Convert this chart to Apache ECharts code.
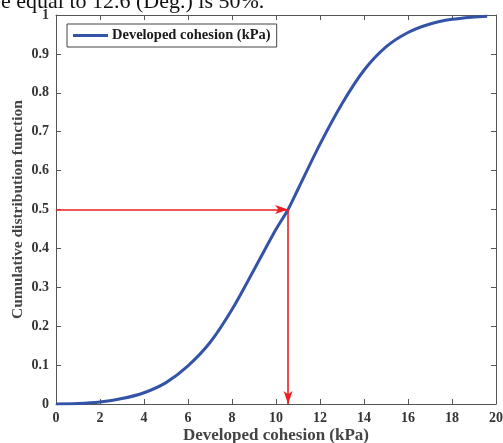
<!DOCTYPE html>
<html>
<head>
<meta charset="utf-8">
<script src="https://cdn.jsdelivr.net/npm/echarts@6/dist/echarts.min.js"></script>
<style>
  html, body { margin: 0; padding: 0; background: #fff; }
  #chart { width: 503px; height: 443px; }
</style>
</head>
<body>
<div id="chart"></div>
<script>
// Cumulative distribution of the developed cohesion
const cohesionKPa = [0, 1, 2, 3, 4, 5, 6, 7, 8, 9, 10, 10.55, 11, 12, 13, 14, 15, 16, 17, 18, 19, 19.6];
const cdfValues   = [0, 0.001, 0.005, 0.014, 0.029, 0.055, 0.098, 0.158, 0.243, 0.345, 0.449, 0.5,
                     0.552, 0.668, 0.772, 0.858, 0.918, 0.955, 0.977, 0.989, 0.995, 0.997];

// Median read-off: 50 % probability level and the matching cohesion
const medianProb = 0.5;
const medianCohesion = 10.55;

const seriesName = 'Developed cohesion (kPa)';
const xTitle = 'Developed cohesion (kPa)';
const yTitle = 'Cumulative distribution function';
const captionLine = 'be equal to 12.6 (Deg.) is 50%.';

const serif = '"Liberation Serif", "Times New Roman", serif';
const axisGrey = '#555';
const curveBlue = '#3353a6';
const arrowRed = '#ee1d24';

// notched arrowhead pointing up
const arrowHead = 'path://M5,0L10,12L5,9L0,12Z';

const chart = echarts.init(document.getElementById('chart'), null, { renderer: 'canvas' });

// top / right edges of the box, ticks pointing inward
const frameAxis = (pos) => ({
  position: pos,
  axisLine: { show: true, onZero: false, lineStyle: { color: axisGrey, width: 1 } },
  axisTick: { show: true, inside: true, length: 5, lineStyle: { color: axisGrey } },
  axisLabel: { show: false },
  splitLine: { show: false }
});

chart.setOption({
  animation: false,
  backgroundColor: '#fff',
  grid: { left: 56, right: 7, top: 15, bottom: 39, containLabel: false, outerBoundsMode: 'none' },
  legend: {
    left: 67, top: 24,
    padding: [4, 6, 4, 6],
    itemGap: 0,
    itemWidth: 35, itemHeight: 3,
    icon: 'rect',
    borderColor: '#444', borderWidth: 1,
    backgroundColor: '#fff',
    textStyle: { fontFamily: serif, fontWeight: 'bold', fontSize: 14.5, color: '#1a1a1a', padding: [0, 0, 0, -1] },
    data: [seriesName]
  },
  graphic: [{
    type: 'text',
    left: -10, top: -9,
    style: { text: captionLine, font: '22px ' + serif, fill: '#111' },
    silent: true
  }],
  xAxis: [{
    type: 'value', min: 0, max: 20, interval: 2,
    name: xTitle, nameLocation: 'middle', nameGap: 23, nameMoveOverlap: false,
    nameTextStyle: { fontFamily: serif, fontWeight: 'bold', fontSize: 17, color: '#444' },
    axisLine: { show: true, onZero: false, lineStyle: { color: axisGrey } },
    axisTick: { show: true, inside: true, length: 5, lineStyle: { color: axisGrey } },
    axisLabel: { margin: 7, fontFamily: serif, fontWeight: 'bold', fontSize: 14, color: '#333', showMaxLabel: true },
    splitLine: { show: false }
  }, Object.assign({ type: 'value', min: 0, max: 20, interval: 2 }, frameAxis('top'))],
  yAxis: [{
    type: 'value', min: 0, max: 1, interval: 0.1,
    name: yTitle, nameLocation: 'middle', nameGap: 30, nameMoveOverlap: false,
    nameTextStyle: { fontFamily: serif, fontWeight: 'bold', fontSize: 15.5, color: '#444' },
    axisLine: { show: true, onZero: false, lineStyle: { color: axisGrey } },
    axisTick: { show: true, inside: true, length: 5, lineStyle: { color: axisGrey } },
    axisLabel: { margin: 7, fontFamily: serif, fontWeight: 'bold', fontSize: 14, color: '#333',
                 formatter: v => String(Math.round(v * 10) / 10) },
    splitLine: { show: false }
  }, Object.assign({ type: 'value', min: 0, max: 1, interval: 0.1 }, frameAxis('right'))],
  series: [{
    name: seriesName,
    type: 'line',
    data: cohesionKPa.map((x, i) => [x, cdfValues[i]]),
    smooth: 0.3,
    showSymbol: false,
    lineStyle: { color: curveBlue, width: 3 },
    itemStyle: { color: curveBlue },
    z: 3,
    markLine: {
      silent: true,
      symbol: ['none', arrowHead],
      symbolSize: [9, 13],
      symbolOffset: [[0, 0], [0, 6.5]],
      lineStyle: { color: arrowRed, width: 1.6, type: 'solid' },
      itemStyle: { color: arrowRed },
      label: { show: false },
      z: 4,
      data: [
        [{ coord: [0, medianProb] }, { coord: [medianCohesion, medianProb] }],
        [{ coord: [medianCohesion, medianProb] }, { coord: [medianCohesion, 0] }]
      ]
    }
  }]
});
</script>
</body>
</html>
